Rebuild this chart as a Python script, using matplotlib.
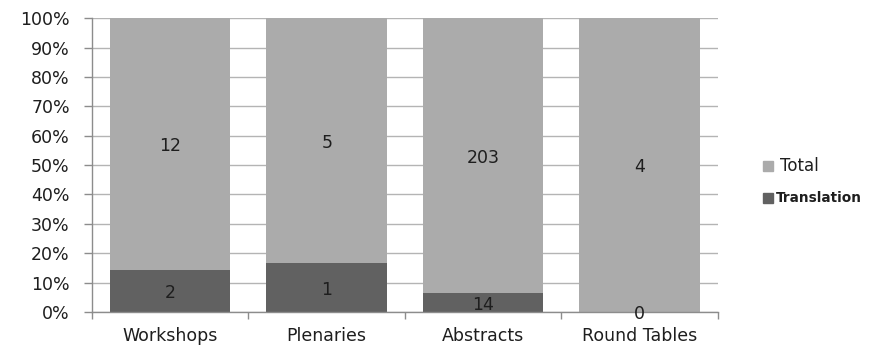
import matplotlib
matplotlib.use("Agg")
import matplotlib.pyplot as plt
import numpy as np

categories = ["Workshops", "Plenaries", "Abstracts", "Round Tables"]
translation = [2, 1, 14, 0]
total = [12, 5, 203, 4]

plt.rcParams['font.family'] = ['DejaVu Sans']

fig = plt.figure(figsize=(8.76, 3.49), dpi=100)
ax = fig.add_axes([0.105, 0.106, 0.7145, 0.842])

x = np.arange(len(categories))
sums = np.array(translation, float) + np.array(total, float)
p_tr = np.array(translation) / sums * 100
p_tot = np.array(total) / sums * 100

c_tot = "#ABABAB"
c_tr = "#616161"
txt = "#1e1e1e"
fs = 12.5

ax.bar(x, p_tr, width=0.77, color=c_tr, zorder=2)
ax.bar(x, p_tot, width=0.77, bottom=p_tr, color=c_tot, zorder=2)

for i in range(len(categories)):
    ax.text(x[i], p_tr[i] / 2 - 0.8, str(translation[i]), ha="center", va="center",
            fontsize=fs, color=txt, zorder=3)
    ax.text(x[i], p_tr[i] + p_tot[i] / 2 - 0.8, str(total[i]), ha="center", va="center",
            fontsize=fs, color=txt, zorder=3)

ax.set_xlim(-0.5, len(categories) - 0.5)
ax.set_ylim(0, 100)
ax.set_yticks(np.arange(0, 101, 10))
ax.set_yticklabels([f"{v}%" for v in range(0, 101, 10)])
ax.yaxis.grid(True, color="#B4B4B4", linewidth=1, zorder=0)
ax.set_axisbelow(True)

ax.set_xticks(x)
ax.set_xticklabels(categories)
ax.set_xticks(np.arange(-0.5, len(categories), 1), minor=True)
ax.tick_params(axis="x", which="major", length=0, pad=11, labelsize=fs, labelcolor=txt)
ax.tick_params(axis="x", which="minor", length=5, color="#8c8c8c", width=1)
ax.tick_params(axis="y", length=6, color="#8c8c8c", width=1, labelsize=fs, labelcolor=txt, pad=10)

for s in ["top", "right"]:
    ax.spines[s].set_visible(False)
for s in ["left", "bottom"]:
    ax.spines[s].set_color("#8c8c8c")
    ax.spines[s].set_linewidth(1)

# Legend
fig.patches.append(plt.Rectangle((763 / 876, 1 - 171 / 349), 10 / 876, 10 / 349,
                                 transform=fig.transFigure, color=c_tot))
fig.text(780 / 876, 1 - 166 / 349, "Total", fontsize=12, color=txt, va="center")
fig.patches.append(plt.Rectangle((763 / 876, 1 - 203 / 349), 10 / 876, 10 / 349,
                                 transform=fig.transFigure, color=c_tr))
fig.text(776 / 876, 1 - 198 / 349, "Translation", fontsize=9.8, fontweight="bold",
         color=txt, va="center")

fig.savefig("out.png", dpi=100)
